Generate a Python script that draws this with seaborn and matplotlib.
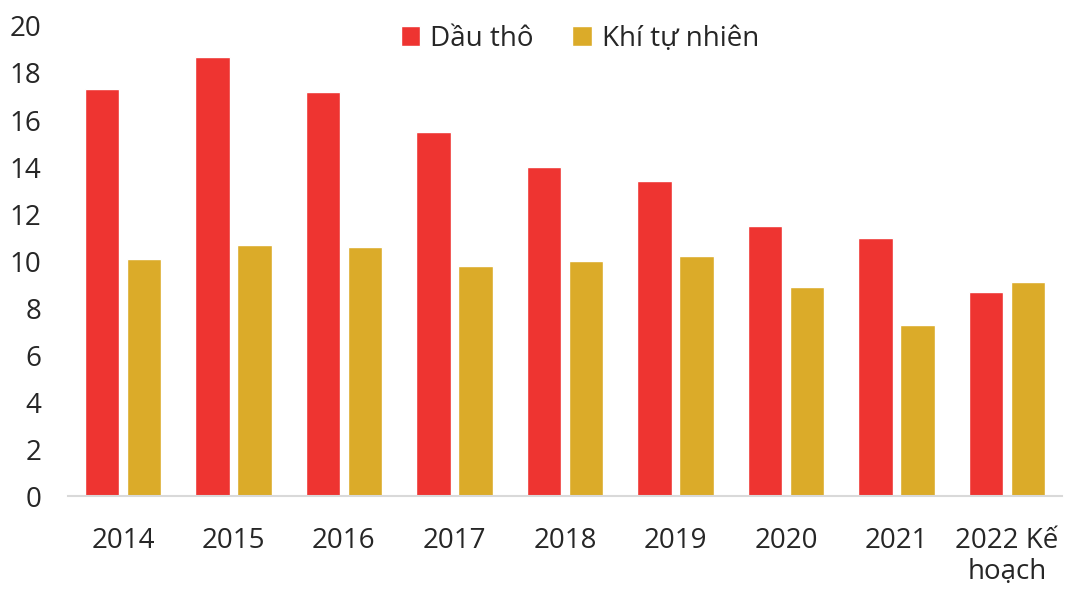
import matplotlib
matplotlib.use("Agg")
import matplotlib.pyplot as plt
import seaborn as sns
import pandas as pd

years = ["2014", "2015", "2016", "2017", "2018", "2019", "2020", "2021", "2022 Kế\nhoạch"]
dau_tho = [17.3, 18.7, 17.2, 15.5, 14.0, 13.4, 11.5, 11.0, 8.7]
khi_tu_nhien = [10.1, 10.7, 10.6, 9.8, 10.0, 10.2, 8.9, 7.3, 9.1]
series = ["Dầu thô", "Khí tự nhiên"]
colors = ["#ee3431", "#dbab29"]

df = pd.DataFrame({
    "year": years * 2,
    "value": dau_tho + khi_tu_nhien,
    "series": [series[0]] * len(years) + [series[1]] * len(years),
})

sns.set_style("white")
plt.rcParams["font.family"] = ["Open Sans", "DejaVu Sans"]

fig = plt.figure(figsize=(10.74, 5.9), dpi=100)
ax = fig.add_axes([0.063, 0.159, 0.926, 0.797])

sns.barplot(data=df, x="year", y="value", hue="series", order=years,
            hue_order=series, palette=colors, width=0.76, gap=0.18,
            saturation=1, errorbar=None, ax=ax)

ax.set_ylim(0, 20)
ax.set_yticks(range(0, 21, 2))
ax.set_xlabel("")
ax.set_ylabel("")
for s in ["top", "right", "left"]:
    ax.spines[s].set_visible(False)
ax.spines["bottom"].set_color("#d9d9d9")
ax.spines["bottom"].set_linewidth(1.5)
ax.tick_params(axis="y", length=0, pad=19, labelsize=20)
ax.tick_params(axis="x", length=0, pad=22, labelsize=20)
for lbl in ax.get_xticklabels():
    lbl.set_linespacing(1.15)

ax.legend(loc="center", bbox_to_anchor=(0.515, 0.973), ncol=2, frameon=False,
          fontsize=20, handlelength=0.7, handleheight=0.7, handletextpad=0.35,
          columnspacing=1.4)

fig.savefig("out.png", dpi=100)
